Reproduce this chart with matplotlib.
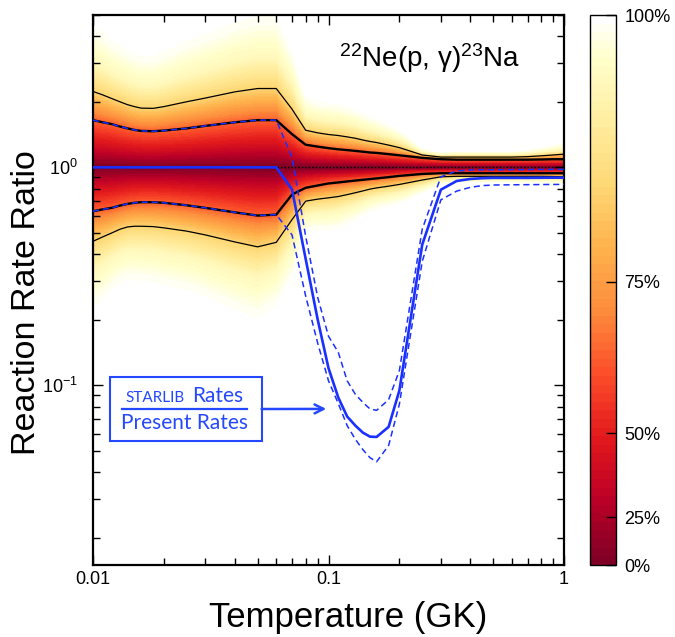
import numpy as np
import matplotlib
matplotlib.use("Agg")
from matplotlib import pyplot as plt
from matplotlib.colors import LinearSegmentedColormap
from matplotlib.patches import Rectangle
from matplotlib.lines import Line2D
from matplotlib.ticker import FixedLocator, FuncFormatter, NullFormatter

plt.rcParams["font.family"] = ["Liberation Sans", "DejaVu Sans"]
plt.rcParams["mathtext.fontset"] = "custom"
plt.rcParams["mathtext.rm"] = "Liberation Sans"
plt.rcParams["mathtext.it"] = "Liberation Sans:italic"
plt.rcParams["mathtext.default"] = "regular"
plt.rcParams["axes.unicode_minus"] = False

# Temperature grid (GK) and rate ratios relative to the recommended rate
temperature = [0.01, 0.011, 0.012, 0.013, 0.014, 0.015, 0.016, 0.018, 0.02, 0.025,
               0.03, 0.04, 0.05, 0.06, 0.07, 0.08, 0.09, 0.1, 0.11, 0.12,
               0.13, 0.14, 0.15, 0.16, 0.18, 0.2, 0.25, 0.3, 0.35, 0.4,
               0.45, 0.5, 0.6, 0.7, 0.8, 0.9, 1.0]

upper_95 = [2.23, 2.15, 2.07, 2.00, 1.94, 1.90, 1.87, 1.865, 1.90, 2.00,
            2.08, 2.22, 2.30, 2.30, 1.85, 1.48, 1.44, 1.415, 1.40, 1.38,
            1.36, 1.335, 1.315, 1.30, 1.265, 1.232, 1.14, 1.115, 1.115, 1.115,
            1.115, 1.115, 1.115, 1.12, 1.13, 1.14, 1.15]
upper_68 = [1.647, 1.61, 1.58, 1.54, 1.51, 1.485, 1.47, 1.465, 1.475, 1.51,
            1.55, 1.61, 1.647, 1.647, 1.42, 1.27, 1.245, 1.225, 1.21, 1.20,
            1.19, 1.18, 1.17, 1.165, 1.15, 1.136, 1.106, 1.09, 1.085, 1.085,
            1.085, 1.085, 1.085, 1.085, 1.087, 1.09, 1.09]
lower_68 = [0.629, 0.642, 0.652, 0.668, 0.68, 0.688, 0.692, 0.692, 0.688, 0.67,
            0.652, 0.622, 0.601, 0.607, 0.751, 0.806, 0.826, 0.844, 0.853, 0.862,
            0.87, 0.877, 0.884, 0.89, 0.902, 0.914, 0.933, 0.94, 0.94, 0.94,
            0.94, 0.94, 0.94, 0.94, 0.94, 0.94, 0.94]
lower_95 = [0.458, 0.48, 0.50, 0.52, 0.533, 0.537, 0.537, 0.535, 0.528, 0.51,
            0.49, 0.455, 0.432, 0.453, 0.576, 0.70, 0.715, 0.725, 0.735, 0.75,
            0.765, 0.78, 0.795, 0.805, 0.82, 0.835, 0.875, 0.905, 0.91, 0.91,
            0.91, 0.91, 0.91, 0.91, 0.91, 0.908, 0.905]

# STARLIB rates divided by the present rates (median and 68% bounds)
starlib_ratio = [1.0, 1.0, 1.0, 1.0, 1.0, 1.0, 1.0, 1.0, 1.0, 1.0,
                 1.0, 1.0, 1.0, 1.0, 0.792, 0.38, 0.2, 0.12, 0.088, 0.072,
                 0.0654, 0.0607, 0.0582, 0.058, 0.0645, 0.0948, 0.442, 0.79, 0.866, 0.885,
                 0.892, 0.895, 0.895, 0.895, 0.896, 0.897, 0.897]
starlib_high = [1.647, 1.61, 1.58, 1.54, 1.51, 1.485, 1.47, 1.465, 1.475, 1.51,
                1.55, 1.61, 1.647, 1.647, 1.11, 0.483, 0.253, 0.168, 0.142, 0.105,
                0.091, 0.0835, 0.078, 0.0768, 0.086, 0.117, 0.52, 0.905, 0.963, 0.972,
                0.975, 0.975, 0.976, 0.977, 0.978, 0.979, 0.979]
starlib_low = [0.629, 0.642, 0.652, 0.668, 0.68, 0.688, 0.692, 0.692, 0.688, 0.67,
               0.652, 0.622, 0.601, 0.607, 0.49, 0.257, 0.156, 0.105, 0.0826, 0.0654,
               0.0566, 0.0507, 0.0466, 0.0446, 0.053, 0.082, 0.37, 0.71, 0.778, 0.81,
               0.825, 0.83, 0.832, 0.833, 0.834, 0.835, 0.835]

# shading level against distance from the median, in units of the band widths
sigma_steps = [0, 0.5, 1, 2, 3, 4, 4.6]
shade_steps = [0, 0.2, 0.38, 0.68, 0.88, 0.97, 1.0]

cbar_labels = ["0%", "25%", "50%", "75%", "100%"]
cbar_ticks = [0, 0.087, 0.24, 0.515, 1.0]

blue = "#1a30ff"
box_blue = "#2448ff"

fig = plt.figure(figsize=(6.75, 6.37), dpi=100)
ax = fig.add_axes([93 / 675, 72 / 637, 471 / 675, 550 / 637])
cax = fig.add_axes([590 / 675, 72 / 637, 26 / 675, 550 / 637])

# colour map: YlOrRd reversed, fading to white at the top
base = plt.get_cmap("YlOrRd_r")
stops = list(np.linspace(0, 0.93, 9)) + [1.0]
colors = list(base(np.linspace(0, 1, 9))) + [(1, 1, 1, 1)]
cmap = LinearSegmentedColormap.from_list("coverage", list(zip(stops, colors)), N=64)

# probability shading built from the 68% and 95% bands
t_grid = np.logspace(-2, 0, 500)
r_grid = np.logspace(np.log10(0.015), np.log10(5), 700)
log_t = np.log10(temperature)


def band(values):
    return np.interp(np.log10(t_grid), log_t, np.log10(values))


hi1, hi2 = band(upper_68), band(upper_95)
lo1, lo2 = band(lower_68), band(lower_95)
u = np.log10(r_grid)[:, None]
z_up = np.where(u <= hi1, u / hi1, 1 + (u - hi1) / (hi2 - hi1))
z_lo = np.where(u >= lo1, u / lo1, 1 + (u - lo1) / (lo2 - lo1))
z = np.where(u >= 0, z_up, z_lo)
shade = np.interp(z, sigma_steps, shade_steps)

mesh = ax.pcolormesh(t_grid, r_grid, shade, cmap=cmap, vmin=0, vmax=1,
                     shading="auto", rasterized=True, zorder=0)

ax.plot(temperature, upper_95, color="k", lw=0.9, zorder=2)
ax.plot(temperature, lower_95, color="k", lw=0.9, zorder=2)
ax.plot(temperature, upper_68, color="k", lw=1.7, zorder=2)
ax.plot(temperature, lower_68, color="k", lw=1.7, zorder=2)
ax.axhline(1.0, color="k", lw=1.0, ls=(0, (1, 1.5)), zorder=2)

ax.plot(temperature, starlib_ratio, color=blue, lw=1.9, zorder=3)
ax.plot(temperature, starlib_high, color=blue, lw=1.1, dashes=(4, 2.5), zorder=3)
ax.plot(temperature, starlib_low, color=blue, lw=1.1, dashes=(4, 2.5), zorder=3)

ax.set_xscale("log")
ax.set_yscale("log")
ax.set_xlim(0.01, 1)
ax.set_ylim(0.015, 5)

ax.xaxis.set_major_locator(FixedLocator([0.01, 0.1, 1]))
ax.xaxis.set_major_formatter(FuncFormatter(lambda v, p: "%g" % v))
ax.xaxis.set_minor_formatter(NullFormatter())
ax.yaxis.set_minor_formatter(NullFormatter())

ax.tick_params(which="both", direction="in", top=True, right=True, width=1, labelsize=13)
ax.tick_params(which="major", length=7)
ax.tick_params(which="minor", length=4.8)
ax.tick_params(axis="x", which="major", pad=4.5)
ax.tick_params(axis="y", which="major", pad=11)
for s in ax.spines.values():
    s.set_linewidth(1.6)

ax.set_xlabel("Temperature (GK)", fontsize=25, va="top")
ax.xaxis.set_label_coords(0.541, -0.065)
ax.set_ylabel("Reaction Rate Ratio", fontsize=24.5)
ax.yaxis.set_label_coords(-0.108, 0.478)

ax.text(0.7155, 0.906, r"$^{22}$Ne(p, γ)$^{23}$Na", transform=ax.transAxes,
        fontsize=20, ha="center", va="baseline")

# legend box: STARLIB rates over present rates
ax.add_patch(Rectangle((0.036, 0.226), 0.322, 0.116, transform=ax.transAxes,
                       fill=False, edgecolor=box_blue, lw=1.5, zorder=4))
ax.add_line(Line2D([0.061, 0.326], [0.2836, 0.2836], transform=ax.transAxes,
                   color=box_blue, lw=1.6, zorder=4))
ax.text(0.1953, 0.297, "STARLIB", transform=ax.transAxes, fontsize=11,
        family="Lato", color=box_blue, ha="right", va="baseline")
ax.text(0.2096, 0.297, "Rates", transform=ax.transAxes, fontsize=15,
        family="Lato", color=box_blue, ha="left", va="baseline")
ax.text(0.195, 0.2465, "Present Rates", transform=ax.transAxes, fontsize=15,
        family="Lato", color=box_blue, ha="center", va="baseline")
ax.annotate("", xy=(0.0978, 0.078), xycoords="data",
            xytext=(0.358, 0.2836), textcoords="axes fraction",
            arrowprops=dict(arrowstyle="->", lw=1.8, color=box_blue,
                            mutation_scale=16, shrinkA=0, shrinkB=0))

cb = fig.colorbar(mesh, cax=cax, ticks=cbar_ticks)
cb.ax.set_yticklabels(cbar_labels)
cb.ax.tick_params(direction="in", length=7, width=1, labelsize=13, pad=6)
cb.outline.set_linewidth(1.0)

fig.savefig("out.png", dpi=100)
